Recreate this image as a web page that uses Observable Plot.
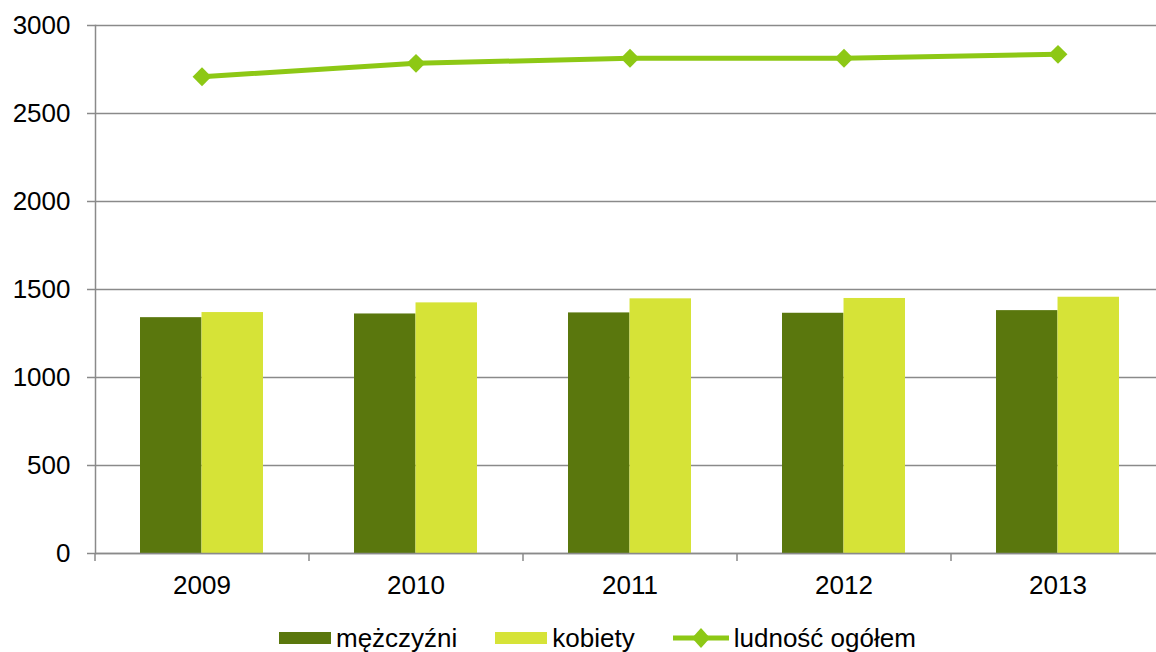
<!DOCTYPE html>
<html>
<head>
<meta charset="utf-8">
<script src="https://cdn.jsdelivr.net/npm/d3@7"></script>
<script src="https://cdn.jsdelivr.net/npm/@observablehq/plot@0.6"></script>
<style>
  html, body { margin: 0; padding: 0; background: #fff; }
  body { width: 1156px; height: 652px; overflow: hidden; font-family: "Liberation Sans", Arial, sans-serif; }
  #legend { display: flex; align-items: center; height: 30px; padding-top: 3px; padding-left: 279px; font-size: 26px; color: #000; }
  .item { display: flex; align-items: center; margin-right: 38px; }
  .item svg { margin-right: 5px; }
</style>
</head>
<body>
<div id="chart"></div>
<div id="legend"></div>
<script>
const years = ["2009", "2010", "2011", "2012", "2013"];
const men = [1340, 1361, 1367, 1365, 1380];
const women = [1369, 1424, 1447, 1449, 1456];
const total = [2709, 2785, 2814, 2814, 2836];
const yTicks = [0, 500, 1000, 1500, 2000, 2500, 3000];
const seriesNames = ["mężczyźni", "kobiety", "ludność ogółem"];
const colors = ["#5a770d", "#d6e337", "#8dc815"];

const data = years.map((y, i) => ({year: y, men: men[i], women: women[i], total: total[i]}));

const W = 1156, H = 620, mL = 95, mR = -9;
const step = (W - mL - mR) / years.length;

const plot = Plot.plot({
  width: W,
  height: H,
  marginLeft: mL,
  marginRight: mR,
  marginTop: 25,
  marginBottom: 67,
  style: {fontFamily: "'Liberation Sans', Arial, sans-serif", fontSize: "26px", color: "#000", background: "#fff", overflow: "visible"},
  x: {domain: years, paddingInner: 0.425, paddingOuter: 0.2125, label: null},
  y: {domain: [0, 3000], label: null},
  marks: [
    Plot.gridY(yTicks, {stroke: "#8a8a8a", strokeOpacity: 1, strokeWidth: 1.5}),
    Plot.barY(data, {x: "year", y: "men", fill: colors[0], insetRight: step * 0.575 / 2}),
    Plot.barY(data, {x: "year", y: "women", fill: colors[1], insetLeft: step * 0.575 / 2}),
    Plot.ruleY([0], {stroke: "#8a8a8a", strokeWidth: 1.5}),
    Plot.frame({anchor: "left", stroke: "#8a8a8a", strokeWidth: 1.5}),
    Plot.axisY({ticks: yTicks, tickSize: 8, tickPadding: 17, stroke: "#8a8a8a", strokeWidth: 1.5, fill: "#000", tickFormat: d => String(d), label: null}),
    Plot.axisX({tickSize: 0, tickPadding: 22, fill: "#000", label: null}),
    Plot.axisX({tickSize: 8, dx: -step / 2, text: null, stroke: "#8a8a8a", strokeWidth: 1.5, label: null}),
    Plot.lineY(data, {x: "year", y: "total", stroke: colors[2], strokeWidth: 5}),
    Plot.dot(data, {x: "year", y: "total", symbol: "diamond2", r: 8.5, fill: colors[2], stroke: "none"})
  ]
});
document.getElementById("chart").appendChild(plot);

const legend = document.getElementById("legend");
seriesNames.forEach((name, i) => {
  const item = document.createElement("div");
  item.className = "item";
  let sw;
  if (i < 2) {
    sw = `<svg width="52" height="14"><rect x="0" y="1" width="52" height="12" fill="${colors[i]}"/></svg>`;
  } else {
    sw = `<svg width="56" height="22"><line x1="0" y1="11" x2="56" y2="11" stroke="${colors[2]}" stroke-width="5" stroke-linecap="round"/><path d="M28,1 L37,11 L28,21 L19,11 Z" fill="${colors[2]}"/></svg>`;
  }
  item.innerHTML = sw + `<span>${name}</span>`;
  legend.appendChild(item);
});
</script>
</body>
</html>
